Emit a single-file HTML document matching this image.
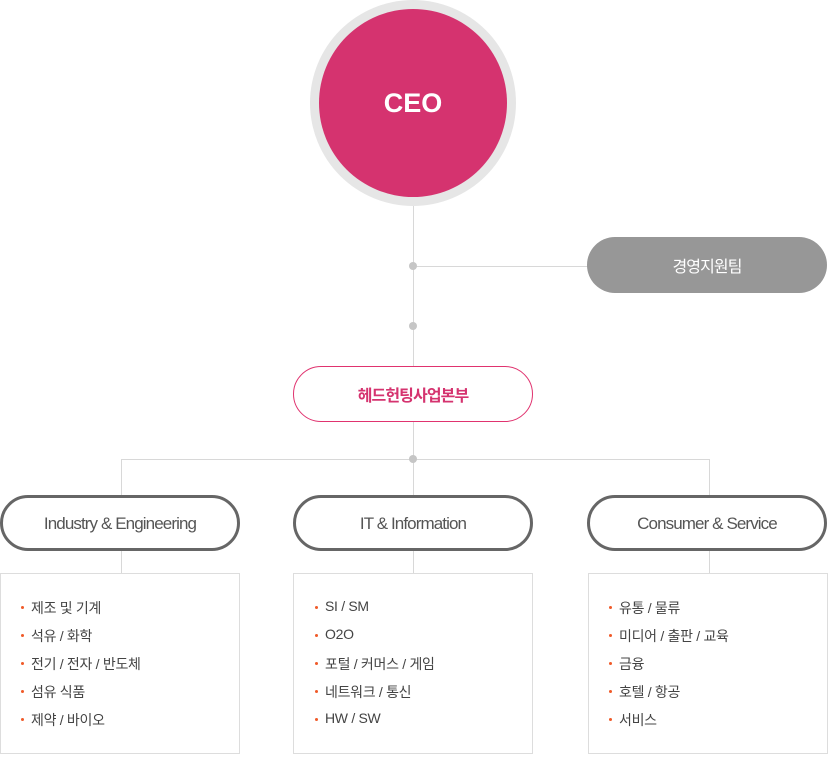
<!DOCTYPE html>
<html><head><meta charset="utf-8"><style>
*{margin:0;padding:0;box-sizing:border-box}
body{width:828px;height:758px;background:#fff;position:relative;overflow:hidden;font-family:"Liberation Sans","Noto Sans CJK KR",sans-serif}
.a{position:absolute}
.vl{position:absolute;width:1px;background:#d8d8d8}
.hl{position:absolute;height:1px;background:#d8d8d8}
.dot{position:absolute;width:8px;height:8px;border-radius:50%;background:#c6c6c6}
.pill{position:absolute;width:240px;height:56px;border-radius:28px;display:flex;align-items:center;justify-content:center;font-size:17px;letter-spacing:-0.9px}
.cat{border:3px solid #666;color:#555;background:#fff;padding-bottom:0}
.cat span{position:relative;top:1px}
.box{position:absolute;top:573px;height:181px;border:1px solid #ddd;background:#fff}
.box ul{list-style:none;position:absolute;top:24px}
.box li{height:28px;font-size:14px;color:#444;position:relative;padding-left:10px;letter-spacing:-0.3px}
.box li:before{content:"";position:absolute;left:0;top:8px;width:3px;height:3px;border-radius:50%;background:#f05a28}
</style></head><body>
<div class="vl" style="left:413px;top:200px;height:373px"></div>
<div class="hl" style="left:413px;top:266px;width:180px"></div>
<div class="hl" style="left:121px;top:459px;width:589px"></div>
<div class="vl" style="left:121px;top:459px;height:114px"></div>
<div class="vl" style="left:709px;top:459px;height:114px"></div>
<div class="dot" style="left:409px;top:262px"></div>
<div class="dot" style="left:409px;top:322px"></div>
<div class="dot" style="left:409px;top:455px"></div>
<div class="a" style="left:310px;top:0;width:206px;height:206px;border-radius:50%;background:#e6e6e6"></div>
<div class="a" style="left:319px;top:9px;width:188px;height:188px;border-radius:50%;background:#d5336f;display:flex;align-items:center;justify-content:center;color:#fff;font-size:27px;font-weight:bold;font-family:'Liberation Sans',sans-serif">CEO</div>
<div class="pill" style="left:587px;top:237px;background:#979797;color:#fff;font-size:16px">경영지원팀</div>
<div class="pill" style="left:293px;top:366px;border:1px solid #e0336f;color:#d5336f;background:#fff;font-size:16px;font-weight:600">헤드헌팅사업본부</div>
<div class="pill cat" style="left:0;top:495px"><span>Industry &amp; Engineering</span></div>
<div class="pill cat" style="left:293px;top:495px"><span>IT &amp; Information</span></div>
<div class="pill cat" style="left:587px;top:495px"><span>Consumer &amp; Service</span></div>
<div class="box" style="left:0;width:240px"><ul style="left:20px"><li>제조 및 기계</li><li>석유 / 화학</li><li>전기 / 전자 / 반도체</li><li>섬유 식품</li><li>제약 / 바이오</li></ul></div>
<div class="box" style="left:293px;width:240px"><ul style="left:21px"><li>SI / SM</li><li>O2O</li><li>포털 / 커머스 / 게임</li><li>네트워크 / 통신</li><li>HW / SW</li></ul></div>
<div class="box" style="left:588px;width:240px"><ul style="left:20px"><li>유통 / 물류</li><li>미디어 / 출판 / 교육</li><li>금융</li><li>호텔 / 항공</li><li>서비스</li></ul></div>
</body></html>
